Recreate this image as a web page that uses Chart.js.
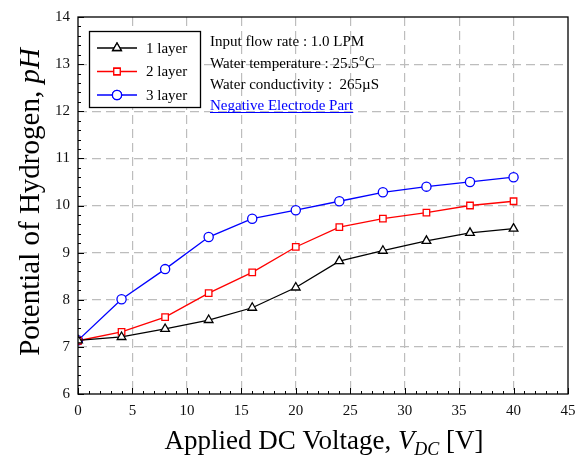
<!DOCTYPE html>
<html>
<head>
<meta charset="utf-8">
<script src="https://cdn.jsdelivr.net/npm/chart.js@4.4.1/dist/chart.umd.min.js"></script>
<style>
html,body{margin:0;padding:0;background:#fff;}
#wrap{width:586px;height:466px;position:relative;}
</style>
</head>
<body>
<div id="wrap"><canvas id="c" width="586" height="466"></canvas></div>
<script>
// ---- data ----
const voltages = [0, 4, 8, 12, 16, 20, 24, 28, 32, 36, 40];
const layer1 = [7.14, 7.21, 7.38, 7.57, 7.83, 8.26, 8.82, 9.04, 9.25, 9.42, 9.51];
const layer2 = [7.13, 7.32, 7.63, 8.14, 8.58, 9.12, 9.54, 9.72, 9.85, 10.0, 10.09];
const layer3 = [7.14, 8.01, 8.65, 9.33, 9.72, 9.90, 10.09, 10.28, 10.40, 10.50, 10.60];
const seriesLabels = ['1 layer', '2 layer', '3 layer'];
const xTicks = [0, 5, 10, 15, 20, 25, 30, 35, 40, 45];
const yTicks = [6, 7, 8, 9, 10, 11, 12, 13, 14];
const infoLines = ['Input flow rate : 1.0 LPM', 'Water temperature : 25.5', 'Water conductivity :  265\u00B5S', 'Negative Electrode Part'];

const SERIF = '"Liberation Serif", "Times New Roman", serif';

function pts(ys){ return voltages.map((v,i)=>({x:v,y:ys[i]})); }

const datasets = [
  {label: seriesLabels[0], data: pts(layer1), borderColor:'#000', pointStyle:'triangle', pointRadius:5, pointBackgroundColor:'#fff', pointBorderColor:'#000'},
  {label: seriesLabels[1], data: pts(layer2), borderColor:'#ff0000', pointStyle:'rect', pointRadius:4.6, pointBackgroundColor:'#fff', pointBorderColor:'#ff0000'},
  {label: seriesLabels[2], data: pts(layer3), borderColor:'#0000ff', pointStyle:'circle', pointRadius:4.6, pointBackgroundColor:'#fff', pointBorderColor:'#0000ff'}
].map(d=>Object.assign(d,{borderWidth:1.3, pointBorderWidth:1.3, tension:0, fill:false}));

const framePlugin = {
  id:'frame',
  afterDraw(chart){
    const ctx = chart.ctx, a = chart.chartArea;
    const xs = chart.scales.x, ys = chart.scales.y;
    ctx.save();
    ctx.strokeStyle = '#000'; ctx.lineWidth = 1.3;
    ctx.strokeRect(a.left, a.top, a.right-a.left, a.bottom-a.top);
    ctx.lineWidth = 1;
    for(let v=0; v<=45; v+=1){
      const px = Math.round(xs.getPixelForValue(v))+0.5;
      const len = (v%5===0)?6:3;
      ctx.beginPath(); ctx.moveTo(px,a.bottom); ctx.lineTo(px,a.bottom-len); ctx.stroke();
    }
    for(let i=0;i<=40;i++){
      const v = 6 + i*0.2;
      const py = Math.round(ys.getPixelForValue(v))+0.5;
      const len = (i%5===0)?6:3;
      ctx.beginPath(); ctx.moveTo(a.left,py); ctx.lineTo(a.left+len,py); ctx.stroke();
    }
    // legend box
    const lx=89, ly=31, lw=111, lh=76;
    ctx.fillStyle='#fff'; ctx.fillRect(lx,ly,lw,lh);
    ctx.strokeStyle='#000'; ctx.lineWidth=1.3; ctx.strokeRect(lx+0.5,ly+0.5,lw,lh);
    chart.data.datasets.forEach((ds,i)=>{
      const yy = 48 + i*23.5;
      ctx.strokeStyle = ds.borderColor; ctx.lineWidth=1.3;
      ctx.beginPath(); ctx.moveTo(97,yy); ctx.lineTo(137,yy); ctx.stroke();
      ctx.fillStyle='#fff';
      Chart.helpers.drawPoint(ctx,{pointStyle:ds.pointStyle, radius:ds.pointRadius, borderWidth:1.3, rotation:0}, 117, yy);
      ctx.fill(); ctx.stroke();
      ctx.fillStyle='#000'; ctx.font='15px '+SERIF; ctx.textBaseline='middle'; ctx.textAlign='left';
      ctx.fillText(ds.label, 146, yy+1);
    });
    // info text
    ctx.font='15px '+SERIF; ctx.textBaseline='alphabetic'; ctx.textAlign='left';
    ctx.fillStyle='#000';
    ctx.fillText(infoLines[0], 210, 46);
    ctx.fillText(infoLines[1], 210, 68);
    let w = ctx.measureText(infoLines[1]).width;
    ctx.font='10px '+SERIF; ctx.fillText('o', 210+w+0.5, 61);
    const w2 = ctx.measureText('o').width;
    ctx.font='15px '+SERIF; ctx.fillText('C', 210+w+w2+1, 68);
    ctx.fillText(infoLines[2], 210, 89);
    ctx.fillStyle='#0000ff';
    ctx.fillText(infoLines[3], 210, 110);
    const w3 = ctx.measureText(infoLines[3]).width;
    ctx.strokeStyle='#0000ff'; ctx.lineWidth=1;
    ctx.beginPath(); ctx.moveTo(210,112.5); ctx.lineTo(210+w3,112.5); ctx.stroke();
    // x axis title
    ctx.fillStyle='#000';
    const f='27px '+SERIF, fi='italic 27px '+SERIF, fs='italic 18px '+SERIF;
    const p1='Applied DC Voltage, ', p2='V', p3='DC', p4=' [V]';
    ctx.font=f; const a1=ctx.measureText(p1).width;
    ctx.font=fi; const a2=ctx.measureText(p2).width;
    ctx.font=fs; const a3=ctx.measureText(p3).width;
    ctx.font=f; const a4=ctx.measureText(p4).width;
    let x0 = 324 - (a1+a2+a3+a4)/2, by=449;
    ctx.font=f; ctx.fillText(p1,x0,by); x0+=a1;
    ctx.font=fi; ctx.fillText(p2,x0,by); x0+=a2;
    ctx.font=fs; ctx.fillText(p3,x0,by+6); x0+=a3;
    ctx.font=f; ctx.fillText(p4,x0,by);
    // y axis title
    const g='29px '+SERIF, gi='italic 29px '+SERIF;
    ctx.save();
    ctx.translate(39, 202); ctx.rotate(-Math.PI/2);
    const q1='Potential of Hydrogen, ', q2='pH';
    ctx.font=g; const b1=ctx.measureText(q1).width;
    ctx.font=gi; const b2=ctx.measureText(q2).width;
    let s = -(b1+b2)/2;
    ctx.font=g; ctx.fillText(q1,s,0);
    ctx.font=gi; ctx.fillText(q2,s+b1,0);
    ctx.restore();
    ctx.restore();
  }
};

new Chart(document.getElementById('c'), {
  type:'line',
  data:{datasets},
  options:{
    responsive:false, animation:false,
    layout:{padding:{left:0,right:18,top:15,bottom:0}},
    plugins:{legend:{display:false}, tooltip:{enabled:false}},
    scales:{
      x:{type:'linear', min:0, max:45,
        afterBuildTicks(s){ s.ticks = xTicks.map(v=>({value:v})); },
        afterFit(s){ s.height = 72; },
        grid:{color:(c)=> (c.tick && (c.tick.value===0||c.tick.value===45))?'rgba(0,0,0,0)':'#bdbdbd', drawTicks:false, lineWidth:1.2},
        border:{display:false, dash:[9,5]},
        ticks:{padding:8, color:'#111', font:{family:SERIF, size:15}, maxRotation:0}
      },
      y:{type:'linear', min:6, max:14,
        afterBuildTicks(s){ s.ticks = yTicks.map(v=>({value:v})); },
        afterFit(s){ s.width = 78; },
        grid:{color:(c)=> (c.tick && (c.tick.value===6||c.tick.value===14))?'rgba(0,0,0,0)':'#bdbdbd', drawTicks:false, lineWidth:1.2},
        border:{display:false, dash:[9,5]},
        ticks:{padding:8, color:'#111', font:{family:SERIF, size:15}}
      }
    }
  },
  plugins:[framePlugin]
});
</script>
</body>
</html>
